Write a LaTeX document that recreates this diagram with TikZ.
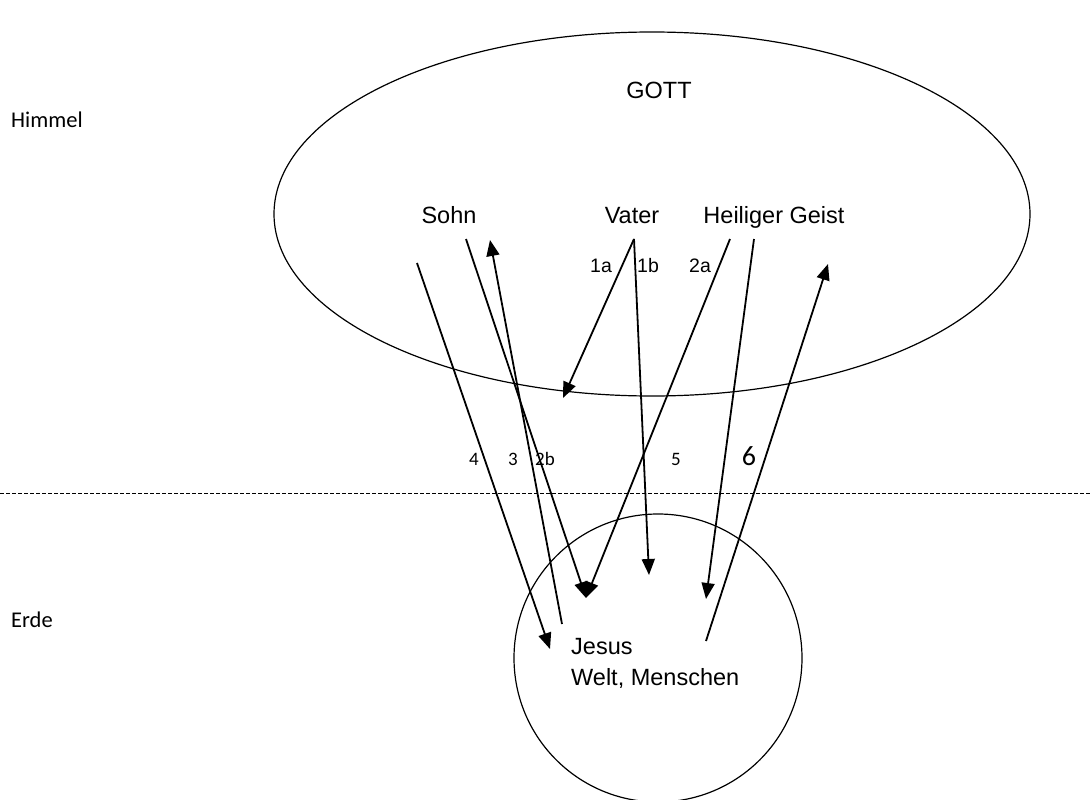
\documentclass[tikz,border=0pt]{standalone}
\usepackage{fontspec}
\setmainfont{Liberation Sans}
\newfontfamily\carl{Carlito}
\usetikzlibrary{arrows.meta}
\begin{document}
\begin{tikzpicture}[x=1pt,y=-1pt,
  arr/.style={line width=1.8pt,-{Triangle[length=16pt,width=13pt]}},
  txt/.style={inner sep=0pt,anchor=base,font=\fontsize{23.5}{26}\selectfont},
  small/.style={inner sep=0pt,anchor=base,font=\fontsize{19.5}{22}\selectfont},
  side/.style={inner sep=0pt,anchor=base west,font=\carl\fontsize{22.5}{24}\selectfont},
  num/.style={inner sep=0pt,anchor=base,font=\carl\fontsize{19}{20}\selectfont}]
\useasboundingbox (0,0) rectangle (1090,800);
\fill[white] (0,0) rectangle (1090,800);
% shapes
\draw[line width=1.2pt] (652,214) ellipse [x radius=378, y radius=182];
\draw[line width=1.2pt] (658,658) circle [radius=144];
\draw[line width=0.8pt,dash pattern=on 4pt off 2pt] (0,493) -- (1090,493);
% texts
\node[txt] (gott) at (659,99) {GOTT};
\node[txt] (sohn) at (449,223) {Sohn};
\node[txt] (vater) at (632,223) {Vater};
\node[txt] (geist) at (774,223) {Heiliger Geist};
\node[side] (himmel) at (11,128) {Himmel};
\node[side] (erde) at (11,627) {Erde};
\node[txt,anchor=base west] (jesus) at (571,654) {Jesus};
\node[txt,anchor=base west] (welt) at (571,685) {Welt, Menschen};
\node[small] (l1a) at (601,272) {1a};
\node[small] (l1b) at (648,272) {1b};
\node[small] (l2a) at (700,272) {2a};
\node[num] (l4) at (474,465) {4};
\node[num] (l3) at (513,465) {3};
\node[num] (l2b) at (545,465) {2b};
\node[num] (l5) at (676,465) {5};
\node[num,font=\carl\fontsize{28}{30}\selectfont] (l6) at (749,465) {6};
% endpoints
\coordinate (v) at (634,239);
\coordinate (t1a) at (563,398);
\coordinate (t1b) at (649,575);
\coordinate (s2a) at (730,239);
\coordinate (t2) at (586,598);
\coordinate (s2b) at (466,239);
\coordinate (shg) at (754,239);
\coordinate (thg) at (706,599);
\coordinate (s6) at (706,641);
\coordinate (t6) at (828,264);
\coordinate (s3) at (562,624);
\coordinate (t3) at (490,240);
\coordinate (s4) at (417,263);
\coordinate (t4) at (550,649);
% arrows
\draw[arr] (v) -- (t1a);
\draw[arr] (v) -- (t1b);
\draw[arr] (s2a) -- (t2);
\draw[arr] (s2b) -- (t2);
\draw[arr] (shg) -- (thg);
\draw[arr] (s6) -- (t6);
\draw[arr] (s3) -- (t3);
\draw[arr] (s4) -- (t4);
\end{tikzpicture}
\end{document}
